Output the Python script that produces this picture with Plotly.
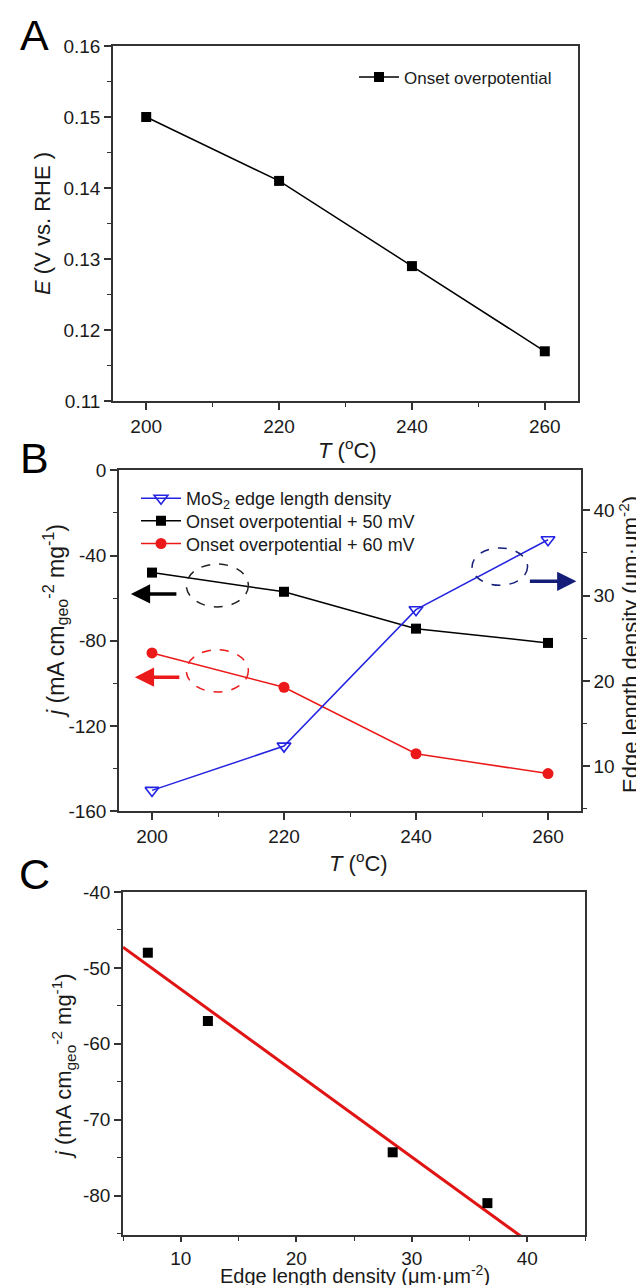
import numpy as np
import plotly.graph_objects as go

# ---------------- data ----------------
temps = [200, 220, 240, 260]                       # T (°C)
onset_E = [0.150, 0.141, 0.129, 0.117]             # panel A, V vs RHE
j_50mV = [-48.0, -57.0, -74.3, -81.0]              # panel B/C, mA cm-2 mg-1
j_60mV = [-85.7, -101.8, -133.0, -142.3]           # panel B
edge_density = [7.15, 12.35, 28.35, 36.55]         # µm·µm-2

# tick labels
a_xticks = [200, 220, 240, 260]
a_yticks = [0.11, 0.12, 0.13, 0.14, 0.15, 0.16]
b_yticks = [0, -40, -80, -120, -160]
b_y2ticks = [10, 20, 30, 40]
c_xticks = [10, 20, 30, 40]
c_yticks = [-40, -50, -60, -70, -80]

# ---------------- layout helpers ----------------
W, H = 644, 1285
FONT = "Liberation Sans, Arial, sans-serif"
AX = "#333333"
TXT = "#1a1a1a"
BLUE = "rgb(35,35,225)"
RED = "rgb(235,25,25)"
NAVY = "rgb(20,30,120)"


def dx(a, b):
    return [a / W, b / W]


def dy(top, bottom):
    return [1 - bottom / H, 1 - top / H]


def axis(domain, rng, tickvals, ticktext, minor_dtick, minor_tick0, ticklen=7, **kw):
    d = dict(
        domain=domain, range=rng, tickmode="array", tickvals=tickvals, ticktext=ticktext,
        ticks="outside", ticklen=ticklen, tickwidth=1.5, tickcolor=AX,
        minor=dict(ticks="outside", ticklen=4, tickwidth=1.2, tickcolor=AX,
                   dtick=minor_dtick, tick0=minor_tick0, showgrid=False),
        showline=True, linecolor=AX, linewidth=1.5, mirror=True,
        showgrid=False, zeroline=False,
        tickfont=dict(family=FONT, size=19, color=TXT),
        automargin=False,
    )
    d.update(kw)
    return d


fig = go.Figure()

# Panel A
fig.add_trace(go.Scatter(
    x=temps, y=onset_E, mode="lines+markers", name="Onset overpotential",
    line=dict(color="black", width=1.5),
    marker=dict(symbol="square", size=10, color="black"),
    xaxis="x", yaxis="y", legend="legend"))

# Panel B
fig.add_trace(go.Scatter(
    x=temps, y=edge_density, mode="lines+markers", name="MoS<sub>2</sub> edge length density",
    line=dict(color=BLUE, width=1.5),
    marker=dict(symbol="triangle-down-open", size=12, color=BLUE, line=dict(width=1.6)),
    xaxis="x2", yaxis="y3", legend="legend2"))
fig.add_trace(go.Scatter(
    x=temps, y=j_50mV, mode="lines+markers", name="Onset overpotential + 50 mV",
    line=dict(color="black", width=1.5),
    marker=dict(symbol="square", size=10, color="black"),
    xaxis="x2", yaxis="y2", legend="legend3"))
fig.add_trace(go.Scatter(
    x=temps, y=j_60mV, mode="lines+markers", name="Onset overpotential + 60 mV",
    line=dict(color=RED, width=1.5),
    marker=dict(symbol="circle", size=11, color=RED),
    xaxis="x2", yaxis="y2", legend="legend4"))

# Panel C
c_xrange = [5, 45]
slope, intercept = np.polyfit(edge_density, j_50mV, 1)
fit_x = np.array(c_xrange, dtype=float)
fit_y = slope * fit_x + intercept
fig.add_trace(go.Scatter(
    x=fit_x, y=fit_y, mode="lines", line=dict(color="rgb(225,20,20)", width=3),
    xaxis="x3", yaxis="y4", showlegend=False))
fig.add_trace(go.Scatter(
    x=edge_density, y=j_50mV, mode="markers",
    marker=dict(symbol="square", size=10, color="black"),
    xaxis="x3", yaxis="y4", showlegend=False))

tt = lambda vals, fmt="{:g}": [fmt.format(v) for v in vals]
JTITLE = "<i>j</i> (mA cm<sub>geo</sub><sup>-2</sup> mg<sup>-1</sup>)"
EDGE = "Edge length density (μm·μm<sup>-2</sup>)"
TTITLE = "<i>T</i> (<sup>o</sup>C)"


def leg(xpx, ypx_top, size):
    return dict(x=xpx / W, y=1 - ypx_top / H, xanchor="left", yanchor="top",
                bgcolor="rgba(0,0,0,0)", font=dict(family=FONT, size=size, color=TXT),
                itemwidth=40)


fig.update_layout(
    width=W, height=H, margin=dict(l=0, r=0, t=0, b=0),
    paper_bgcolor="white", plot_bgcolor="white",
    font=dict(family=FONT, color=TXT),
    xaxis=axis(dx(105, 570), [195, 265], a_xticks, tt(a_xticks), 10, 200, anchor="y"),
    yaxis=axis(dy(38, 393), [0.11, 0.16], a_yticks, tt(a_yticks, "{:.2f}"), 0.005, 0.11,
               anchor="x"),
    xaxis2=axis(dx(111, 573), [195, 265], a_xticks, tt(a_xticks), 10, 200, anchor="y2"),
    yaxis2=axis(dy(462.3, 803.3), [-160, 0], b_yticks, tt(b_yticks), 20, 0,
                anchor="x2", mirror=False),
    yaxis3=axis(dy(462.3, 803.3), [4.7, 44.7], b_y2ticks, tt(b_y2ticks), 5, 5,
                anchor="x2", overlaying="y2", side="right", mirror=False),
    xaxis3=axis(dx(115, 577), c_xrange, c_xticks, tt(c_xticks), 5, 5, ticklen=5,
                anchor="y4"),
    yaxis4=axis(dy(884, 1227), [-85.2, -40], c_yticks, tt(c_yticks), 5, -40, anchor="x3"),
    legend=leg(346, 51.5, 17),
    legend2=leg(128, 472, 18),
    legend3=leg(128, 494.6, 18),
    legend4=leg(128, 517.3, 18),
)

# axis titles (placed as annotations for exact positioning)
titles = [
    (TTITLE, 339, 441, 0, 22),
    ("<i>E</i> (V vs. RHE )", 34, 216, -90, 22),
    (TTITLE, 350, 854, 0, 22),
    (JTITLE, 47, 613, -90, 23),
    (EDGE, 621, 637, -90, 22),
    (EDGE, 347, 1266.5, 0, 20),
    (JTITLE, 55, 1058, -90, 22),
]
for text, cx, cy, ang, size in titles:
    fig.add_annotation(x=cx / W, y=1 - cy / H, xref="paper", yref="paper", text=text,
                       textangle=ang, showarrow=False, xanchor="center", yanchor="middle",
                       font=dict(family=FONT, size=size, color=TXT))

# dashed ellipses (panel B)
ell = [
    dict(x0=205.2, x1=214.6, y0=-64.1, y1=-44.0, color="#222222"),
    dict(x0=205.2, x1=214.6, y0=-104.0, y1=-84.2, color=RED),
    dict(x0=248.5, x1=256.9, y0=-53.95, y1=-36.45, color=NAVY),
]
for e in ell:
    fig.add_shape(type="circle", xref="x2", yref="y2", x0=e["x0"], x1=e["x1"],
                  y0=e["y0"], y1=e["y1"], line=dict(color=e["color"], width=1.5, dash="dash"))

# arrows (panel B)
arrows = [
    dict(x=196.8, y=-58.0, ax=47, color="black"),
    dict(x=197.4, y=-97.1, ax=46, color=RED),
    dict(x=264.3, y=-52.1, ax=-48, color=NAVY),
]
for a in arrows:
    fig.add_annotation(x=a["x"], y=a["y"], xref="x2", yref="y2", ax=a["ax"], ay=0,
                       axref="pixel", ayref="pixel", text="", showarrow=True,
                       arrowhead=2, arrowsize=1.1, arrowwidth=3.5, arrowcolor=a["color"],
                       standoff=0)

# panel letters
for letter, yc in [("A", 27), ("B", 450), ("C", 866)]:
    fig.add_annotation(x=26 / W, y=1 - yc / H, xref="paper", yref="paper", text=letter,
                       showarrow=False, xanchor="center", yanchor="middle",
                       font=dict(family=FONT, size=43, color="black"))

fig.write_html("out.html")
